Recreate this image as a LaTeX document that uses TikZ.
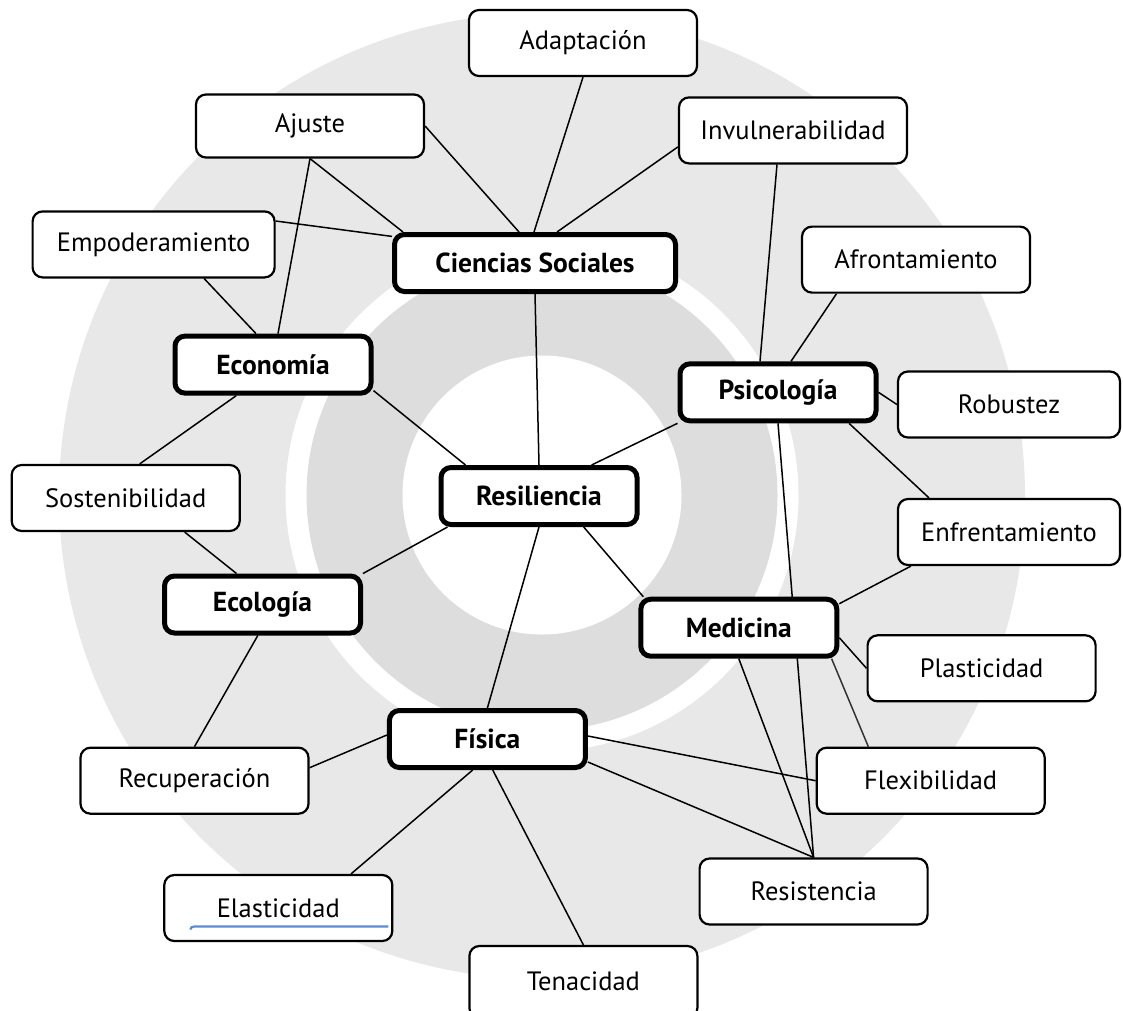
\documentclass[tikz,border=0pt]{standalone}
\usepackage{fontspec}
\setmainfont{PT Sans}
\usetikzlibrary{calc}
\definecolor{ringlight}{HTML}{E8E8E8}
\definecolor{ringdark}{HTML}{DDDDDD}
\definecolor{markblue}{HTML}{5B8BD2}
\pgfdeclarelayer{rings}
\pgfdeclarelayer{links}
\pgfsetlayers{rings,links,main}
\begin{document}
\begin{tikzpicture}[x=1pt,y=-1pt,
  term/.style={draw=black, line width=2.2pt, rounded corners=10pt, fill=white,
    minimum width=228pt, minimum height=66pt, inner sep=0pt,
    font=\fontsize{26.5}{30}\selectfont},
  field/.style={draw=black, line width=5pt, rounded corners=10pt, fill=white,
    minimum width=196pt, minimum height=57pt, inner sep=0pt,
    font=\fontsize{27.5}{30}\selectfont\bfseries},
  link/.style={draw=black, line width=1.5pt}]

\useasboundingbox (0,0) rectangle (1123,1010);

% concentric background rings
\begin{pgfonlayer}{rings}
\fill[ringlight] (542,496) circle[radius=483pt];
\fill[white]     (542,495) circle[radius=256.5pt];
\fill[ringdark]  (542,495) circle[radius=235.5pt];
\fill[white]     (542,495) circle[radius=139.5pt];
\end{pgfonlayer}

% central and field nodes
\node[field] (resil)  at (539,496)   {Resiliencia};
\node[field, minimum width=281pt] (cs) at (535,263) {Ciencias Sociales};
\node[field] (econ)   at (273,364.6) {Economía};
\node[field] (psico)  at (778,392.3) {Psicología};
\node[field] (ecol)   at (262.5,604.5) {Ecología};
\node[field] (medic)  at (738.8,627.7) {Medicina};
\node[field] (fisica) at (487.4,739) {Física};

% concept nodes
\node[term] (adap)   at (583,43)      {Adaptación};
\node[term, minimum height=63pt] (ajuste) at (310,126) {Ajuste};
\node[term] (invul)  at (793,130.4)   {Invulnerabilidad};
\node[term, minimum width=242pt] (empod) at (153.6,244.4) {Empoderamiento};
\node[term] (afront) at (916,259.6)   {Afrontamiento};
\node[term, minimum width=222pt] (robust) at (1009,404.5) {Robustez};
\node[term] (sosten) at (125.7,498)   {Sostenibilidad};
\node[term, minimum width=222pt] (enfren) at (1009,532) {Enfrentamiento};
\node[term] (plast)  at (981.6,668.3) {Plasticidad};
\node[term] (recup)  at (194.5,780.7) {Recuperación};
\node[term] (flex)   at (930.7,780.7) {Flexibilidad};
\node[term] (resist) at (813.6,891.5) {Resistencia};
\node[term] (elast)  at (278.3,908)   {Elasticidad};
\node[term, minimum height=72pt] (tenac) at (583.4,982) {\raisebox{2pt}{Tenacidad}};

% blue underline inside the Elasticidad box
\draw[markblue, line width=2.2pt]
  ($(elast.center)+(-88,21.5)$) .. controls ($(elast.center)+(-87,19)$) ..
  ($(elast.center)+(-84,18.5)$) -- ($(elast.center)+(110,18.5)$);

% connectors, kept underneath the boxes
\begin{pgfonlayer}{links}
\draw[link] (ajuste.east) -- ($(cs.north)+(-16,0)$);
\draw[link] (adap.south) -- ($(cs.north)+(-1,0)$);
\draw[link] ($(invul.west)+(0,16.5)$) -- ($(cs.north)+(22,0)$);
\draw[link] (ajuste.south) -- ($(cs.north west)+(11,0)$);
\draw[link] ($(empod.east)+(0,-23.4)$) -- ($(cs.west)+(0,-26.6)$);
\draw[link] (ajuste.south) -- ($(econ.north)+(5,0)$);
\draw[link] ($(empod.south)+(50.5,0)$) -- ($(econ.north)+(-17,0)$);
\draw[link] ($(econ.east)+(0,26)$) -- ($(resil.north)+(-73.5,0)$);
\draw[link] (cs.south) -- (resil.north);
\draw[link] (psico.south west) -- ($(resil.north)+(52.6,0)$);
\draw[link] ($(econ.south)+(-36.7,0)$) -- ($(sosten.north)+(14,0)$);
\draw[link] ($(sosten.south)+(59,0)$) -- ($(ecol.north)+(-26,0)$);
\draw[link] (ecol.north east) -- ($(resil.south west)+(9,0)$);
\draw[link] ($(resil.south)+(44.7,0)$) -- ($(medic.north west)+(5,0)$);
\draw[link] (resil.south) -- (fisica.north);
\draw[link] ($(ecol.south)+(-4.7,0)$) -- (recup.north);
\draw[link] ($(fisica.west)+(0,-4)$) -- ($(recup.east)+(0,-13)$);
\draw[link] ($(fisica.south)+(-14.7,0)$) -- ($(elast.north)+(72.7,0)$);
\draw[link] ($(fisica.south)+(5.3,0)$) -- (tenac.north);
\draw[link] ($(fisica.east)+(0,-3)$) -- (flex.west);
\draw[link] ($(fisica.east)+(0,23)$) -- (resist.north);
\draw[link] (medic.south) -- (resist.north);
\draw[link] (psico.south) -- (resist.north);
\draw[link, draw=black!80] ($(medic.south east)+(-7.7,0)$) -- ($(flex.north)+(-62.4,0)$);
\draw[link] ($(invul.south)+(-16,0)$) -- ($(psico.north)+(-18,0)$);
\draw[link] ($(afront.south)+(-79.5,0)$) -- ($(psico.north)+(13,0)$);
\draw[link] (psico.east) -- (robust.west);
\draw[link] ($(psico.south)+(71,0)$) -- ($(enfren.north)+(-80,0)$);
\draw[link] ($(enfren.south west)+(14,0)$) -- ($(medic.east)+(0,-24)$);
\draw[link] ($(medic.east)+(0,10)$) -- (plast.west);
\end{pgfonlayer}
\end{tikzpicture}
\end{document}
